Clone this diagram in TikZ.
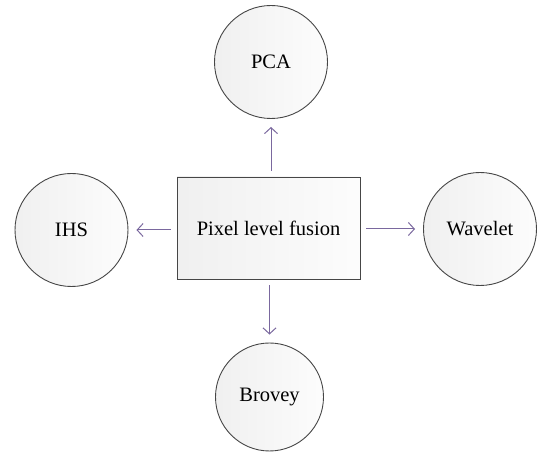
\documentclass[tikz,border=0pt]{standalone}
\usepackage{fontspec}
\setmainfont{Liberation Serif}
\usetikzlibrary{arrows.meta}
\definecolor{linkcol}{RGB}{122,104,158}
\definecolor{edgecol}{RGB}{70,70,70}
\begin{document}
\begin{tikzpicture}[x=1pt,y=-1pt,
  method/.style={draw=edgecol, line width=0.9pt, circle, minimum size=113pt, inner sep=0pt,
    left color=black!6, right color=black!1, font=\fontsize{20.5}{24}\selectfont},
  fusion/.style={draw=edgecol, line width=0.9pt, rectangle, minimum width=183pt, minimum height=102pt,
    left color=black!6, right color=black!1, font=\fontsize{20.5}{24}\selectfont},
  link/.style={draw=linkcol, line width=1pt, -{Straight Barb[length=6pt,width=13pt]},
    shorten <=6pt, shorten >=8pt}]
\useasboundingbox (0,0) rectangle (542,454);
\node[fusion] (plf) at (268.5,228) {Pixel level fusion};
\node[method] (pca) at (271,62) {PCA};
\node[method] (ihs) at (71.5,230) {IHS};
\node[method] (wav) at (480,229) {Wavelet};
\node[method, minimum size=108pt] (bro) at (269.5,397) {Brovey};

\path[link] (plf.north -| pca.south) -- (pca.south);
\path[link] (plf.west |- ihs.east) -- (ihs.east);
\path[link] (plf.east |- wav.west) -- (wav.west);
\path[link] (plf.south -| bro.north) -- (bro.north);
\end{tikzpicture}
\end{document}
